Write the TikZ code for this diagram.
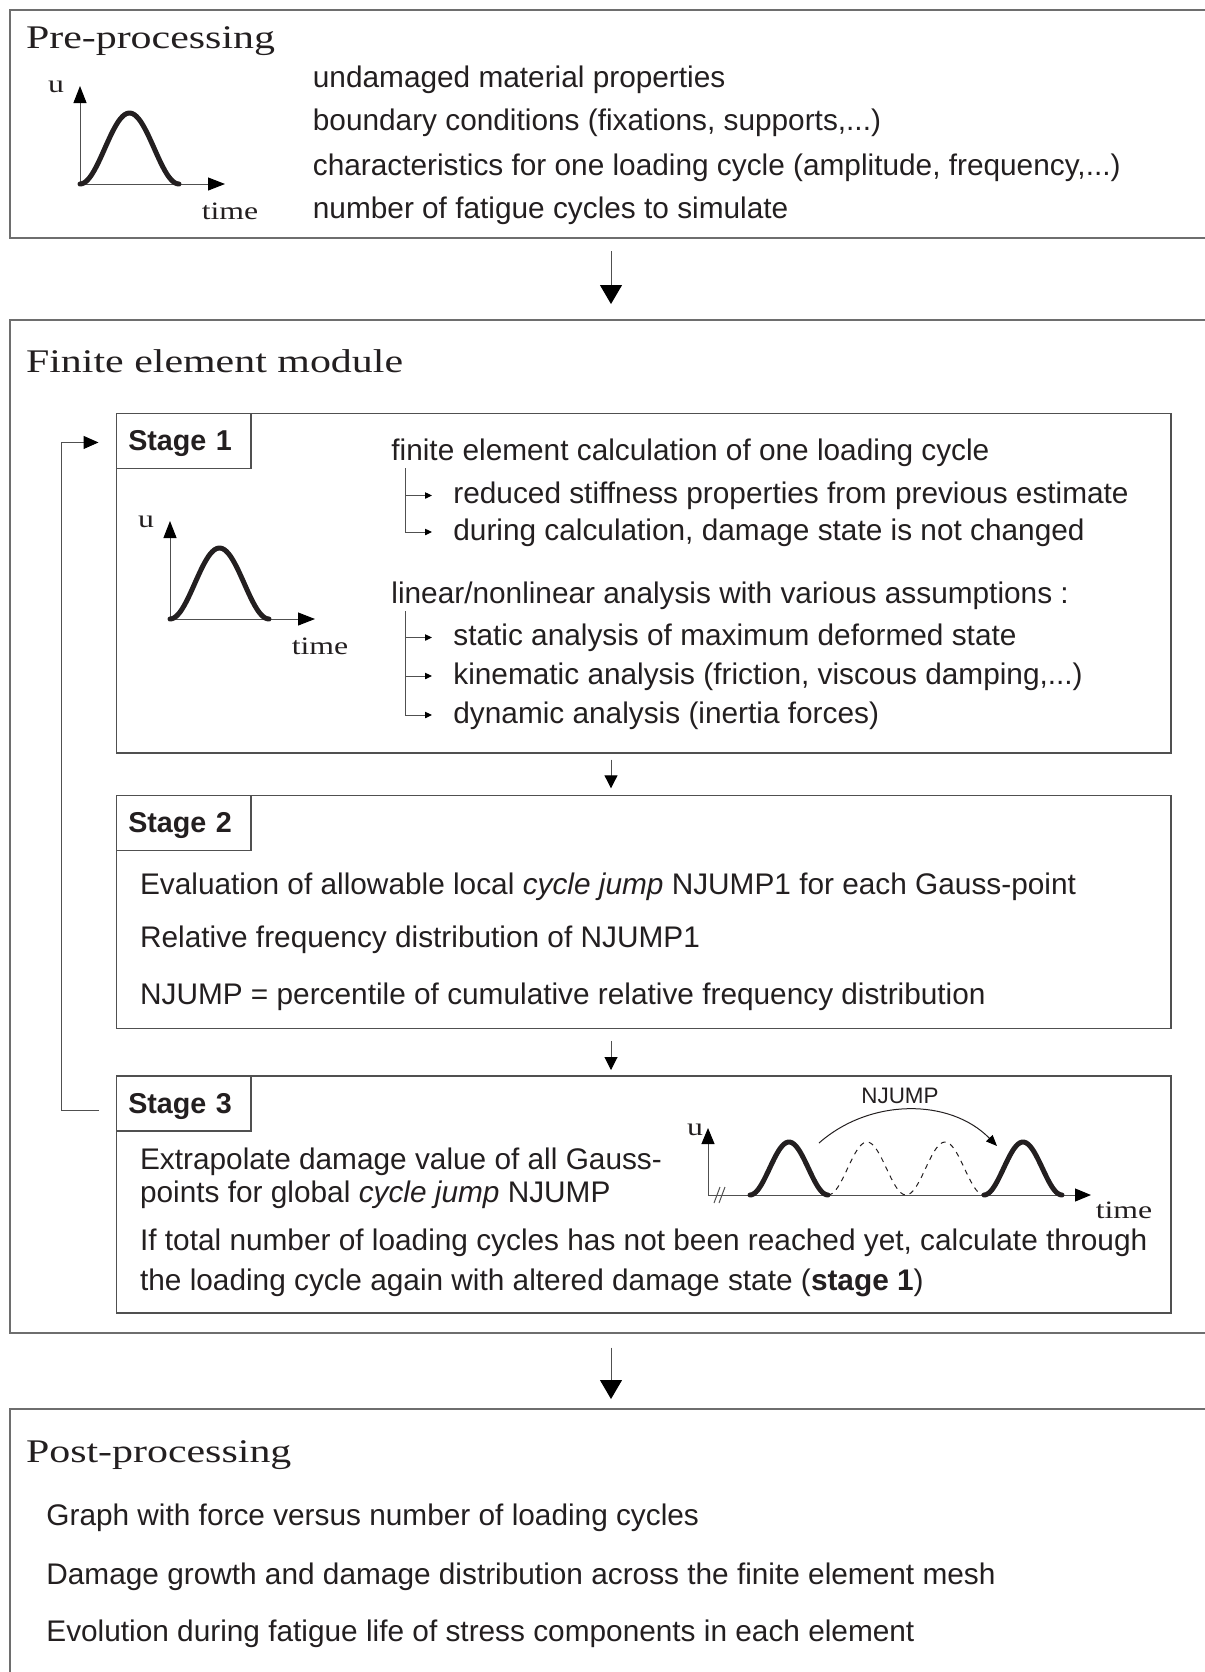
\documentclass[tikz,border=0pt]{standalone}
\usepackage{fontspec}
\setmainfont{Liberation Sans}
\newfontfamily\ttlfont[FakeStretch=1.27]{Liberation Serif}
\usetikzlibrary{arrows.meta,calc}
\definecolor{txt}{HTML}{231F20}
\definecolor{boxgray}{HTML}{6E6E6E}
\definecolor{stgray}{HTML}{505050}
\newcommand\cycgraph[3]{%
  \begin{scope}[shift={(#2,#3)}]
    \draw[axisline,-{Triangle[length=8.5pt,width=6.5pt,color=black]}] (0,0) -- (0,-98);
    \draw[axisline,-{Triangle[length=8.5pt,width=6.5pt,color=black]}] (0,0) -- (145,0);
    \draw[hump] plot[domain=0:99,samples=50] (\x,{-35.5*(1-cos(3.6364*\x))});
    \node[axlbl] (#1u) at (-24,-97) {u};
    \node[axlbl] (#1t) at (150,27) {time};
  \end{scope}}
\begin{document}
\begin{tikzpicture}[x=0.5pt,y=-0.5pt,
  every node/.style={text=txt},
  outerbox/.style={draw=boxgray,line width=1pt,inner sep=0pt,anchor=north west,minimum width=601.5pt},
  stagebox/.style={draw=stgray,line width=0.75pt,inner sep=0pt,anchor=north west,minimum width=527.25pt},
  headbox/.style={draw=stgray,line width=0.75pt,anchor=north west,inner xsep=6pt,inner ysep=0pt,
     text width=55.25pt,minimum height=27.5pt,align=left,text depth=0pt,
     font=\bfseries\fontsize{14.35pt}{17pt}\selectfont},
  body/.style={anchor=base west,inner sep=0pt,font=\fontsize{14.9pt}{18pt}\selectfont},
  ttl/.style={anchor=base west,inner sep=0pt,font=\ttlfont\fontsize{16.5pt}{20pt}\selectfont},
  axlbl/.style={inner sep=0pt,font=\ttlfont\fontsize{12.5pt}{14pt}\selectfont},
  axisline/.style={draw=stgray,line width=0.5pt},
  hump/.style={draw=txt,line width=2.5pt,line cap=round},
  dhump/.style={draw=txt,line width=0.5pt,dash pattern=on 2.5pt off 2.5pt},
  bigarrow/.style={draw=stgray,line width=0.5pt,-{Triangle[length=9.5pt,width=11pt,color=black]}},
  smallarrow/.style={draw=stgray,line width=0.5pt,-{Triangle[length=6.5pt,width=6.5pt,color=black]}},
  fbarrow/.style={draw=stgray,line width=0.5pt,-{Triangle[length=7.5pt,width=6.5pt,color=black]}},
  brk/.style={draw=stgray,line width=0.5pt},
  brkarrow/.style={draw=stgray,line width=0.5pt,-{Triangle[length=3.5pt,width=3.2pt,color=black]}}
]
\useasboundingbox (0,0) rectangle (1205,1672);

% ---------- Pre-processing ----------
\node[outerbox,minimum height=114.25pt] (pre) at (8.5,8.5) {};
\node[ttl] (pret) at (25.6,48) {Pre-processing};
\cycgraph{pg}{80}{184}
\node[body] (p1) at (312.5,87) {undamaged material properties};
\node[body] (p2) at (312.5,130.5) {boundary conditions (fixations, supports,...)};
\node[body] (p3) at (312.5,175) {characteristics for one loading cycle (amplitude, frequency,...)};
\node[body] (p4) at (312.5,218) {number of fatigue cycles to simulate};

% ---------- Finite element module ----------
\node[outerbox,minimum height=506.35pt] (fe) at (8.5,319) {};
\node[ttl] (fet) at (25.6,372) {Finite element module};

% Stage 1
\node[stagebox,minimum height=169.65pt] (s1) at (115.5,412.7) {};
\node[headbox] (s1head) at (s1.north west) {Stage 1};
\cycgraph{sg}{170}{619}
\node[body] (a0) at (391,460) {finite element calculation of one loading cycle};
\node[body] (a1) at (453,503.5) {reduced stiffness properties from previous estimate};
\node[body] (a2) at (453,540) {during calculation, damage state is not changed};
\node[body] (b0) at (391,603) {linear/nonlinear analysis with various assumptions :};
\node[body] (b1) at (453,645.5) {static analysis of maximum deformed state};
\node[body] (b2) at (453,684) {kinematic analysis (friction, viscous damping,...)};
\node[body] (b3) at (453,723) {dynamic analysis (inertia forces)};
\coordinate (ab) at (405,468);
\draw[brk] (ab) -- (ab |- 0,532);
\draw[brkarrow] (ab |- 0,495.5) -- ([xshift=-10.5pt]a1.base west |- 0,495.5);
\draw[brkarrow] (ab |- 0,532) -- ([xshift=-10.5pt]a2.base west |- 0,532);
\coordinate (bb) at (405,611);
\draw[brk] (bb) -- (bb |- 0,715);
\draw[brkarrow] (bb |- 0,637.5) -- ([xshift=-10.5pt]b1.base west |- 0,637.5);
\draw[brkarrow] (bb |- 0,676) -- ([xshift=-10.5pt]b2.base west |- 0,676);
\draw[brkarrow] (bb |- 0,715) -- ([xshift=-10.5pt]b3.base west |- 0,715);

% Stage 2
\node[stagebox,minimum height=116.6pt] (s2) at (115.5,794.5) {};
\node[headbox] (s2head) at (s2.north west) {Stage 2};
\node[body] (c1) at (139.7,894) {Evaluation of allowable local \textit{cycle jump} NJUMP1 for each Gauss-point};
\node[body] (c2) at (139.7,947) {Relative frequency distribution of NJUMP1};
\node[body] (c3) at (139.7,1004) {NJUMP = percentile of cumulative relative frequency distribution};

% Stage 3
\node[stagebox,minimum height=118.5pt] (s3) at (115.5,1075) {};
\node[headbox] (s3head) at (s3.north west) {Stage 3};
\node[body] (d1) at (139.7,1169) {Extrapolate damage value of all Gauss-};
\node[body] (d2) at (139.7,1202) {points for global \textit{cycle jump} NJUMP};
\node[body] (d3) at (139.7,1250) {If total number of loading cycles has not been reached yet, calculate through};
\node[body] (d4) at (139.7,1290) {the loading cycle again with altered damage state (\textbf{stage 1})};

% Stage 3 graph
\coordinate (o3) at (708,1195);
\draw[axisline,-{Triangle[length=8pt,width=6.5pt,color=black]}] (o3) -- (708,1128);
\draw[axisline,-{Triangle[length=8pt,width=6.5pt,color=black]}] (o3) -- (1091,1195);
\draw[brk] (714,1203) -- (720,1187);
\draw[brk] (719,1203) -- (725,1187);
\draw[hump] plot[domain=0:78,samples=40] ({750+\x},{1195-26.5*(1-cos(4.615*\x))});
\draw[dhump] plot[domain=0:156,samples=80] ({828+\x},{1195-26.5*(1-cos(4.615*\x))});
\draw[hump] plot[domain=0:78,samples=40] ({984+\x},{1195-26.5*(1-cos(4.615*\x))});
\node[axlbl] (g3u) at (695,1130) {u};
\node[axlbl] (g3t) at (1124,1210) {time};
\node[inner sep=0pt,font=\fontsize{11.2pt}{13pt}\selectfont] (nj) at (900,1096) {NJUMP};
\draw[line width=0.5pt,draw=txt,-{Triangle[length=5.5pt,width=4.5pt,color=black]}]
  (819,1143) .. controls (870,1098) and (950,1098) .. (997,1146);

% feedback loop
\draw[fbarrow] ([shift={(-16.5,7)}]s3head.west) -- ++(-38,0) |- ([shift={(-17,1.5)}]s1head.west);

% stage arrows
\draw[smallarrow] ($(s1.south -| fe.south)+(0,6)$) -- ($(s2.north -| fe.south)+(0,-6.2)$);
\draw[smallarrow] ($(s2.south -| fe.south)+(0,11.6)$) -- ($(s3.north -| fe.south)+(0,-5)$);

% ---------- Post-processing ----------
\node[outerbox,minimum height=141.15pt] (post) at (8.5,1407.7) {};
\node[ttl] (postt) at (25.6,1462) {Post-processing};
\node[body] (e1) at (46,1525) {Graph with force versus number of loading cycles};
\node[body] (e2) at (46,1584) {Damage growth and damage distribution across the finite element mesh};
\node[body] (e3) at (46,1641.5) {Evolution during fatigue life of stress components in each element};

% main arrows
\draw[bigarrow] ($(pre.south)+(0,12)$) -- ($(fe.north)+(0,-15)$);
\draw[bigarrow] ($(fe.south)+(0,14)$) -- ($(post.north)+(0,-8.7)$);
\end{tikzpicture}
\end{document}
